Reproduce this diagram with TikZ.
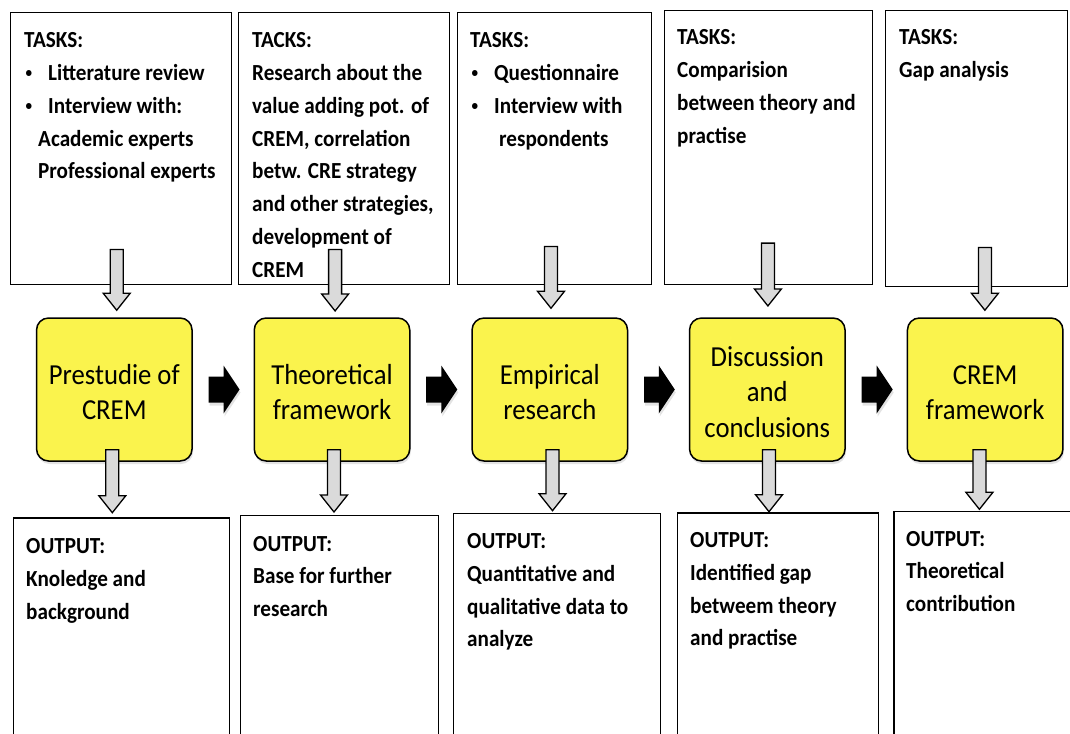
\documentclass[tikz,border=0pt]{standalone}
\usepackage{fontspec}
\usepackage{graphicx}
\setmainfont{Carlito}[FakeStretch=0.92]
\usetikzlibrary{calc,shadows}

\definecolor{stageyellow}{RGB}{250,243,77}
\definecolor{arrowgray}{RGB}{218,218,218}

% bullet item marker used in the task lists
\newcommand\bul{\makebox[24pt][l]{\hspace*{1.5pt}\raisebox{3.2pt}{\scalebox{0.62}{•}}}}
% lifts the first line of a stage label to a fixed height
\newcommand\firstline{\rule{0pt}{25pt}}

\tikzset{
  frame/.style={draw=black, line width=1.4pt, anchor=north west, inner sep=0pt},
  listtext/.style={anchor=base west, inner sep=0pt,
    font=\bfseries\fontsize{23}{32.75}\selectfont},
  stage/.style={draw=black, line width=1.5pt, fill=stageyellow, rounded corners=12pt,
    minimum width=155.5pt, minimum height=143pt, inner sep=0pt, align=center,
    font=\fontsize{29}{35.5}\selectfont,
    drop shadow={opacity=0.22, shadow xshift=1pt, shadow yshift=-3pt}},
  grayarrow/.style={draw=black, fill=arrowgray, line width=1.3pt, line join=miter,
    to path={let \p1=(\tikztostart), \p2=(\tikztotarget) in
      (\x1-6.5pt,\y1) -- (\x1+6.5pt,\y1) -- (\x1+6.5pt,\y2+17pt) -- (\x1+13.5pt,\y2+17pt)
      -- (\x1,\y2) -- (\x1-13.5pt,\y2+17pt) -- (\x1-6.5pt,\y2+17pt) -- cycle}},
  blackarrow/.style={fill=black, draw=none,
    drop shadow={opacity=0.22, shadow xshift=1pt, shadow yshift=-3pt},
    to path={let \p1=(\tikztostart), \p2=(\tikztotarget) in
      (\x1,\y1+13pt) -- (\x2-16pt,\y1+13pt) -- (\x2-16pt,\y1+24pt) -- (\x2,\y1)
      -- (\x2-16pt,\y1-24pt) -- (\x2-16pt,\y1-13pt) -- (\x1,\y1-13pt) -- cycle}}
}

\begin{document}
\begin{tikzpicture}[x=1pt,y=-1pt]
\clip (0,0) rectangle (1070,733);
\fill[white] (0,0) rectangle (1070,733);

% task frames (top row)
\node[frame, minimum width=221pt, minimum height=272pt] (t1) at (10,12) {};
\node[frame, minimum width=211pt, minimum height=272pt] (t2) at (238,12) {};
\node[frame, minimum width=194pt, minimum height=272pt] (t3) at (456.5,12) {};
\node[frame, minimum width=208pt, minimum height=274pt] (t4) at (664,10) {};
\node[frame, minimum width=182pt, minimum height=276pt] (t5) at (885,10) {};

% output frames (bottom row, running off the lower edge)
\node[frame, minimum width=216.3pt, minimum height=260pt] (o1) at (12.7,517.3) {};
\node[frame, minimum width=198pt, minimum height=260pt] (o2) at (240,515) {};
\node[frame, minimum width=207.3pt, minimum height=260pt] (o3) at (452.5,512.7) {};
\node[frame, minimum width=200.8pt, minimum height=260pt] (o4) at (677,512.3) {};
\node[frame, minimum width=200pt, minimum height=260pt] (o5) at (893.3,510.7) {};

% process stages
\node[stage] (s1) at (114.3,389.5) {\firstline Prestudie of\\CREM};
\node[stage] (s2) at (332,389.5) {\firstline Theoretical\\framework};
\node[stage] (s3) at (549.8,389.5) {\firstline Empirical\\research};
\node[stage] (s4) at (767.3,389.5) {\firstline Discussion\\and\\conclusions};
\node[stage] (s5) at (985.2,389.5) {\firstline CREM\\framework};

% task lists
\node[listtext] (t1txt) at (24,48) {\parbox[t]{300pt}{\raggedright
  TASKS:\\
  \bul Litterature review\\
  \bul Interview with:\\
  \hspace*{14pt}Academic experts\\
  \hspace*{14pt}Professional experts}};
\node[listtext] (t2txt) at (252,48) {\parbox[t]{300pt}{\raggedright
  TACKS:\\
  Research about the\\
  value adding pot. of\\
  CREM, correlation\\
  betw. CRE strategy\\
  and other strategies,\\
  development of\\
  CREM}};
\node[listtext] (t3txt) at (470,48) {\parbox[t]{300pt}{\raggedright
  TASKS:\\
  \bul Questionnaire\\
  \bul Interview with\\
  \hspace*{29pt}respondents}};
\node[listtext] (t4txt) at (677,45) {\parbox[t]{300pt}{\raggedright
  TASKS:\\
  Comparision\\
  between theory and\\
  practise}};
\node[listtext] (t5txt) at (899,45) {\parbox[t]{300pt}{\raggedright
  TASKS:\\
  Gap analysis}};

% outputs
\node[listtext] (o1txt) at (26,553.5) {\parbox[t]{300pt}{\raggedright
  OUTPUT:\\
  Knoledge and\\
  background}};
\node[listtext] (o2txt) at (253,551) {\parbox[t]{300pt}{\raggedright
  OUTPUT:\\
  Base for further\\
  research}};
\node[listtext] (o3txt) at (467,548.5) {\parbox[t]{300pt}{\raggedright
  OUTPUT:\\
  Quantitative and\\
  qualitative data to\\
  analyze}};
\node[listtext] (o4txt) at (690,547.5) {\parbox[t]{300pt}{\raggedright
  OUTPUT:\\
  Identified gap\\
  betweem theory\\
  and practise}};
\node[listtext] (o5txt) at (906,546) {\parbox[t]{300pt}{\raggedright
  OUTPUT:\\
  Theoretical\\
  contribution}};

% flow between stages
\draw[blackarrow] ([xshift=15.7pt]s1.east) to ([xshift=-14pt]s2.west);
\draw[blackarrow] ([xshift=15.7pt]s2.east) to ([xshift=-14pt]s3.west);
\draw[blackarrow] ([xshift=15.7pt]s3.east) to ([xshift=-14pt]s4.west);
\draw[blackarrow] ([xshift=15.7pt]s4.east) to ([xshift=-14pt]s5.west);

% tasks feeding the stages
\draw[grayarrow] ([xshift=-4.5pt,yshift=36pt]t1.south) to ([yshift=7pt]s1.north);
\draw[grayarrow] ([xshift=-9.1pt,yshift=36pt]t2.south) to ([yshift=6.3pt]s2.north);
\draw[grayarrow] ([xshift=-3.2pt,yshift=39pt]t3.south) to ([yshift=9pt]s3.north);
\draw[grayarrow] ([xshift=-0.8pt,yshift=42.3pt]t4.south) to ([yshift=11.3pt]s4.north);
\draw[grayarrow] ([xshift=8.2pt,yshift=40pt]t5.south) to ([yshift=7pt]s5.north);

% stages producing outputs
\draw[grayarrow] ([xshift=-2pt,yshift=12pt]s1.south) to ([yshift=4.6pt]o1.north);
\draw[grayarrow] ([xshift=2pt,yshift=12pt]s2.south) to ([yshift=3pt]o2.north);
\draw[grayarrow] ([xshift=2.7pt,yshift=12pt]s3.south) to ([yshift=2pt]o3.north);
\draw[grayarrow] ([xshift=1.7pt,yshift=12pt]s4.south) to ([yshift=0.6pt]o4.north);
\draw[grayarrow] ([xshift=-5.8pt,yshift=12pt]s5.south) to ([yshift=1.4pt]o5.north);
\end{tikzpicture}
\end{document}
